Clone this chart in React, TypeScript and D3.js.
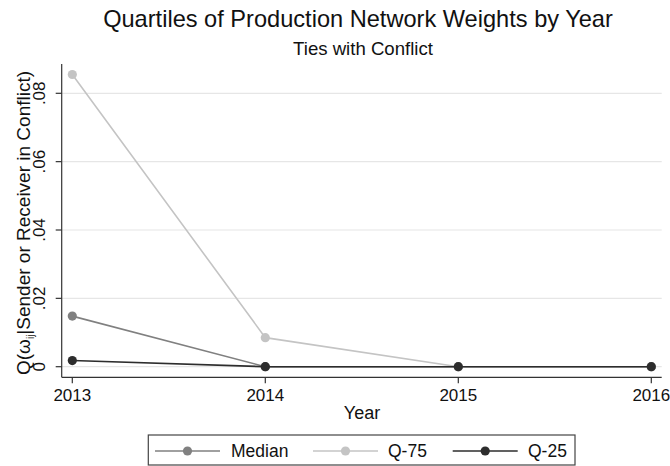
import React from "react";
import * as d3 from "d3";

const years = [2013, 2014, 2015, 2016];
const medianValues = [0.0148, 0, 0, 0];
const q75Values = [0.0855, 0.0085, 0, 0];
const q25Values = [0.0018, 0, 0, 0];
const yTicks = [0, 0.02, 0.04, 0.06, 0.08];
const yTickLabels = ["0", ".02", ".04", ".06", ".08"];
const seriesNames = ["Median", "Q-75", "Q-25"];
const seriesColors = ["#808080", "#c4c4c4", "#2d2d2d"];

const W = 670;
const H = 466;
const FONT = "'Liberation Sans', Arial, Helvetica, sans-serif";

export default function App() {
  const left = 61.7;
  const right = 661.7;
  const top = 64;
  const bottom = 377.3;

  const x = d3.scaleLinear().domain([2013, 2016]).range([72.3, 651.3]);
  const y = d3.scaleLinear().domain([0, 0.08]).range([366.7, 93.3]);

  const series = [medianValues, q75Values, q25Values];
  const line = d3
    .line<number>()
    .x((_, i) => x(years[i]))
    .y((d) => y(d));

  const legendEntries = [
    { lx: 155, tx: 231 },
    { lx: 313, tx: 388 },
    { lx: 452.7, tx: 528 },
  ];
  const legendY = 451;

  return (
    <svg
      width={W}
      height={H}
      style={{ position: "absolute", left: 0, top: 0, background: "#fff" }}
      fontFamily={FONT}
    >
      <rect x={0} y={0} width={W} height={H} fill="#fff" />
      {/* title */}
      <text x={358} y={27} textAnchor="middle" fontSize={23.6} fill="#111">
        Quartiles of Production Network Weights by Year
      </text>
      <text x={363} y={55} textAnchor="middle" fontSize={18.6} fill="#111">
        Ties with Conflict
      </text>

      {/* gridlines */}
      {yTicks.map((t) => (
        <line
          key={"g" + t}
          x1={left}
          x2={right}
          y1={y(t)}
          y2={y(t)}
          stroke="#e6e6e6"
          strokeWidth={1.2}
        />
      ))}

      {/* axes */}
      <line x1={left} x2={left} y1={top} y2={bottom} stroke="#333" strokeWidth={1.2} />
      <line x1={left} x2={right} y1={bottom} y2={bottom} stroke="#333" strokeWidth={1.2} />

      {yTicks.map((t, i) => (
        <g key={"yt" + t}>
          <line x1={left - 6} x2={left} y1={y(t)} y2={y(t)} stroke="#333" strokeWidth={1.2} />
          <text
            transform={`translate(${45},${y(t)}) rotate(-90)`}
            textAnchor="middle"
            fontSize={17}
            fill="#111"
          >
            {yTickLabels[i]}
          </text>
        </g>
      ))}

      {years.map((yr) => (
        <g key={"xt" + yr}>
          <line x1={x(yr)} x2={x(yr)} y1={bottom} y2={bottom + 6} stroke="#333" strokeWidth={1.2} />
          <text x={x(yr)} y={401} textAnchor="middle" fontSize={17} fill="#111">
            {yr}
          </text>
        </g>
      ))}

      <text x={362} y={419} textAnchor="middle" fontSize={18} fill="#111">
        Year
      </text>

      <text
        transform={`translate(${30},${223}) rotate(-90)`}
        textAnchor="middle"
        fontSize={19}
        fill="#111"
      >
        Q(ω
        <tspan fontSize={10} dy={4}>ij</tspan>
        <tspan dy={-4}>|Sender or Receiver in Conflict)</tspan>
      </text>

      {/* series */}
      {series.map((vals, si) => (
        <g key={"s" + si}>
          <path d={line(vals) || ""} fill="none" stroke={seriesColors[si]} strokeWidth={1.6} />
          {vals.map((v, i) => (
            <circle key={i} cx={x(years[i])} cy={y(v)} r={4.6} fill={seriesColors[si]} />
          ))}
        </g>
      ))}

      {/* legend */}
      <rect x={148.3} y={435} width={426.7} height={30} fill="#fff" stroke="#444" strokeWidth={1.2} />
      {seriesNames.map((name, i) => (
        <g key={"l" + name}>
          <line
            x1={legendEntries[i].lx}
            x2={legendEntries[i].lx + 65}
            y1={legendY}
            y2={legendY}
            stroke={seriesColors[i]}
            strokeWidth={1.6}
          />
          <circle cx={legendEntries[i].lx + 32.5} cy={legendY} r={4.6} fill={seriesColors[i]} />
          <text x={legendEntries[i].tx} y={legendY + 6} fontSize={17.5} fill="#111">
            {name}
          </text>
        </g>
      ))}
    </svg>
  );
}
